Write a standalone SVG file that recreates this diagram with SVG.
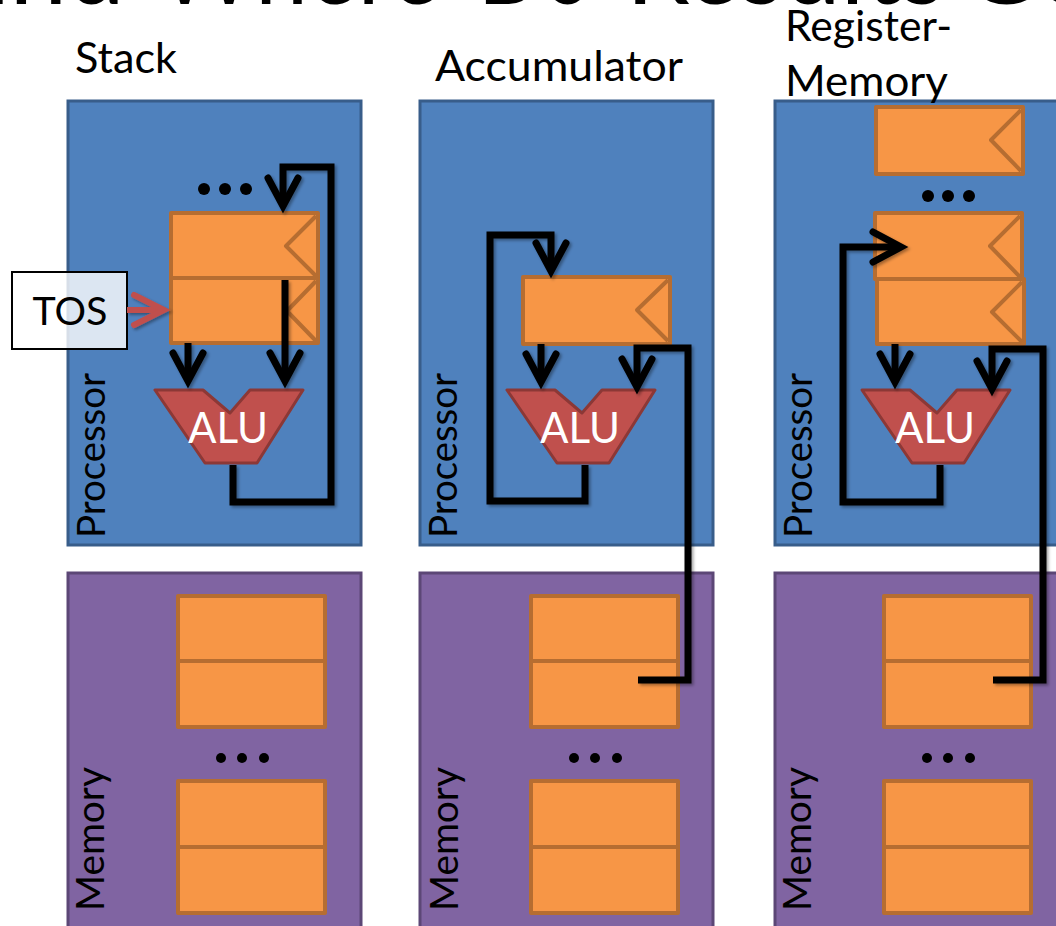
<svg xmlns="http://www.w3.org/2000/svg" width="1056" height="926" viewBox="0 0 1056 926">
<style>
.lbl{font-family:Lato,"Liberation Sans",sans-serif;fill:#000}
.title{font-family:Lato,"Liberation Sans",sans-serif;font-size:105px;fill:#000}
.head{font-size:43px}
.side{font-size:38px}
.proc{fill:#4F81BD;stroke:#385D8A;stroke-width:3}
.mem{fill:#8064A2;stroke:#5C4776;stroke-width:3}
.cell{fill:#F79646;stroke:#B66D31;stroke-width:4;stroke-linejoin:round}
.clk{fill:none;stroke:#B66D31;stroke-width:4;stroke-linejoin:round}
.alu{fill:#C0504D;stroke:#8C3836;stroke-width:3;stroke-linejoin:round}
.alut{font-family:Lato,"Liberation Sans",sans-serif;font-size:43px;fill:#fff;text-anchor:middle}
.dot{fill:#000}
.wire{fill:none;stroke:#000;stroke-width:7;stroke-linejoin:miter;marker-end:url(#ah)}
.wire0{fill:none;stroke:#000;stroke-width:7;stroke-linejoin:miter}
.tos{fill:#fff;fill-opacity:0.8;stroke:#000;stroke-width:2}
</style>
<defs>
<marker id="ah" markerUnits="userSpaceOnUse" markerWidth="44" markerHeight="44" viewBox="-36 -22 44 44" refX="0" refY="0" orient="auto" overflow="visible">
<path d="M-28,-15 L0,0 L-28,15" fill="none" stroke="#000" stroke-width="7" stroke-linecap="round"/>
</marker>
<marker id="ahr" markerUnits="userSpaceOnUse" markerWidth="44" markerHeight="44" viewBox="-36 -22 44 44" refX="0" refY="0" orient="auto" overflow="visible">
<path d="M-30,-15 L0,0 L-30,15" fill="none" stroke="#C0504D" stroke-width="6" stroke-linecap="round"/>
</marker>
<filter id="sh" x="-20%" y="-20%" width="140%" height="140%">
<feDropShadow dx="2" dy="2" stdDeviation="1.5" flood-color="#000" flood-opacity="0.35"/>
</filter>
</defs>

<rect x="0" y="0" width="1056" height="926" fill="#fff"/>

<g id="title">
<text class="title" y="4"><tspan x="-42" textLength="167" lengthAdjust="spacingAndGlyphs">and</tspan><tspan x="158" textLength="282" lengthAdjust="spacingAndGlyphs">Where</tspan><tspan x="478" textLength="114" lengthAdjust="spacingAndGlyphs">Do</tspan><tspan x="626" textLength="319" lengthAdjust="spacingAndGlyphs">Results</tspan><tspan x="962" textLength="180" lengthAdjust="spacingAndGlyphs">Go?</tspan></text>
</g>

<!-- Processor and memory panels -->
<g id="proc-stack"><rect class="proc" x="68" y="101" width="293" height="444"/></g>
<g id="proc-acc"><rect class="proc" x="420" y="101" width="293" height="444"/></g>
<g id="proc-regmem"><rect class="proc" x="775" y="101" width="300" height="444"/></g>
<g id="mem-stack"><rect class="mem" x="68" y="573" width="293" height="370"/></g>
<g id="mem-acc"><rect class="mem" x="420" y="573" width="293" height="370"/></g>
<g id="mem-regmem"><rect class="mem" x="775" y="573" width="300" height="370"/></g>

<!-- Memory cells -->
<g id="memcells-stack">
<rect class="cell" x="178" y="596" width="147" height="65"/>
<rect class="cell" x="178" y="661" width="147" height="66"/>
<circle class="dot" cx="221" cy="758" r="5"/><circle class="dot" cx="242" cy="758" r="5"/><circle class="dot" cx="264" cy="758" r="5"/>
<rect class="cell" x="178" y="781" width="147" height="66"/>
<rect class="cell" x="178" y="847" width="147" height="66"/>
</g>
<g id="memcells-acc">
<rect class="cell" x="531" y="596" width="147" height="65"/>
<rect class="cell" x="531" y="661" width="147" height="66"/>
<circle class="dot" cx="574" cy="758" r="5"/><circle class="dot" cx="595" cy="758" r="5"/><circle class="dot" cx="617" cy="758" r="5"/>
<rect class="cell" x="531" y="781" width="147" height="66"/>
<rect class="cell" x="531" y="847" width="147" height="66"/>
</g>
<g id="memcells-regmem">
<rect class="cell" x="884" y="596" width="147" height="65"/>
<rect class="cell" x="884" y="661" width="147" height="66"/>
<circle class="dot" cx="927" cy="758" r="5"/><circle class="dot" cx="948" cy="758" r="5"/><circle class="dot" cx="970" cy="758" r="5"/>
<rect class="cell" x="884" y="781" width="147" height="66"/>
<rect class="cell" x="884" y="847" width="147" height="66"/>
</g>

<!-- Stack registers -->
<g id="stack-regs">
<circle class="dot" cx="204" cy="189" r="6"/><circle class="dot" cx="225" cy="189" r="6"/><circle class="dot" cx="246" cy="189" r="6"/>
<rect class="cell" x="171" y="213" width="147" height="65"/>
<polyline class="clk" points="316,216 286,246 316,276"/>
<rect class="cell" x="171" y="278" width="147" height="65"/>
<polyline class="clk" points="316,281 287,311 316,341"/>
</g>
<g id="alu-stack">
<polygon class="alu" points="155,390 203,390 230,413 250,390 303,390 257,463 205,463"/>
<text class="alut" x="228" y="443" textLength="80" lengthAdjust="spacingAndGlyphs">ALU</text>
</g>

<!-- Accumulator -->
<g id="acc-reg">
<rect class="cell" x="523" y="277" width="147" height="67"/>
<polyline class="clk" points="668,280 637,310 668,341"/>
</g>
<g id="alu-acc">
<polygon class="alu" points="507,390 555,390 582,413 602,390 655,390 609,463 557,463"/>
<text class="alut" x="580" y="443" textLength="80" lengthAdjust="spacingAndGlyphs">ALU</text>
</g>

<!-- Register-memory -->
<g id="regmem-regs">
<rect class="cell" x="876" y="107" width="147" height="67"/>
<polyline class="clk" points="1021,110 991,140 1021,171"/>
<circle class="dot" cx="928" cy="196" r="6"/><circle class="dot" cx="948" cy="196" r="6"/><circle class="dot" cx="969" cy="196" r="6"/>
<rect class="cell" x="875" y="213" width="147" height="66"/>
<polyline class="clk" points="1020,216 990,246 1020,277"/>
<rect class="cell" x="877" y="279" width="147" height="65"/>
<polyline class="clk" points="1022,282 992,312 1022,342"/>
</g>
<g id="alu-regmem">
<polygon class="alu" points="862,390 910,390 937,413 957,390 1010,390 964,463 912,463"/>
<text class="alut" x="935" y="443" textLength="80" lengthAdjust="spacingAndGlyphs">ALU</text>
</g>

<!-- TOS -->
<g id="tos">
<rect class="tos" x="12" y="272" width="115" height="77"/>
<text class="lbl" x="70" y="325" font-size="39" text-anchor="middle" textLength="75" lengthAdjust="spacingAndGlyphs">TOS</text>
</g>

<!-- Connectors -->
<g id="connectors" filter="url(#sh)">
<path class="wire" d="M233,465 V502 H331 V167 H283 V206"/>
<path class="wire" d="M285,280 V381"/>
<path class="wire" d="M188,343 V381"/>
<path d="M127,310 H164" fill="none" stroke="#C0504D" stroke-width="6" marker-end="url(#ahr)"/>

<path class="wire" d="M585,465 V501 H490 V235 H551 V271"/>
<path class="wire" d="M541,344 V382"/>
<path class="wire" d="M638,680 H688 V348 H637 V387"/>

<path class="wire" d="M940,465 V502 H843 V247 H901"/>
<path class="wire" d="M895,344 V382"/>
<path class="wire" d="M993,680 H1043 V349 H992 V389"/>
</g>

<!-- Labels -->
<g id="labels">
<text class="lbl head" x="75" y="73" textLength="102" lengthAdjust="spacingAndGlyphs">Stack</text>
<text class="lbl head" x="435" y="81" textLength="248" lengthAdjust="spacingAndGlyphs">Accumulator</text>
<text class="lbl head" x="785" y="41" textLength="167" lengthAdjust="spacingAndGlyphs">Register-</text>
<text class="lbl head" x="785" y="96" textLength="163" lengthAdjust="spacingAndGlyphs">Memory</text>
<text class="lbl side" transform="translate(105,538) rotate(-90)" textLength="165" lengthAdjust="spacingAndGlyphs">Processor</text>
<text class="lbl side" transform="translate(457,538) rotate(-90)" textLength="165" lengthAdjust="spacingAndGlyphs">Processor</text>
<text class="lbl side" transform="translate(812,538) rotate(-90)" textLength="165" lengthAdjust="spacingAndGlyphs">Processor</text>
<text class="lbl side" transform="translate(104,911) rotate(-90)" textLength="144" lengthAdjust="spacingAndGlyphs">Memory</text>
<text class="lbl side" transform="translate(458,911) rotate(-90)" textLength="144" lengthAdjust="spacingAndGlyphs">Memory</text>
<text class="lbl side" transform="translate(811,911) rotate(-90)" textLength="144" lengthAdjust="spacingAndGlyphs">Memory</text>
</g>
</svg>
